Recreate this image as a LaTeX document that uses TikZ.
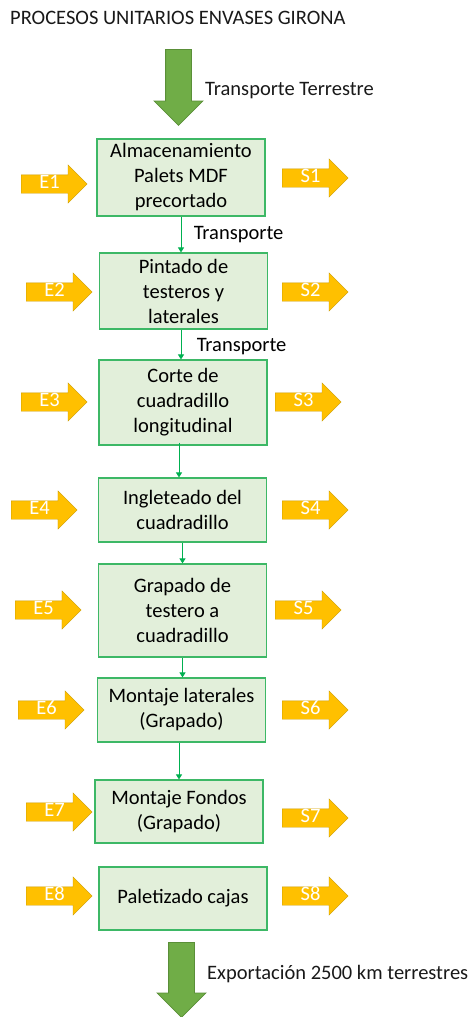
\documentclass[tikz,border=0pt]{standalone}
\usepackage{fontspec}
\setmainfont{Carlito}
\usetikzlibrary{positioning, shapes.arrows, arrows.meta}
\definecolor{boxfill}{HTML}{E2EFDA}
\definecolor{boxline}{HTML}{3DB866}
\definecolor{flowline}{HTML}{00B050}
\definecolor{iofill}{HTML}{FFC000}
\definecolor{ioline}{HTML}{C99A00}
\definecolor{bigfill}{HTML}{70AD47}
\definecolor{bigline}{HTML}{5A8F38}

\begin{document}
\begin{tikzpicture}[x=1pt, y=-1pt, font=\fontsize{20.5}{25}\selectfont,
    proc/.style={draw=boxline, fill=boxfill, line width=1.1pt, align=center, minimum width=168pt, inner sep=2pt},
    io/.style={single arrow, draw=ioline, fill=iofill, text=white, anchor=tail, minimum height=66pt,
        single arrow head extend=10pt, inner xsep=0pt, inner ysep=1.5pt, text height=12pt, text depth=3pt},
    bigarrow/.style={single arrow, draw=bigline, fill=bigfill, line width=0.8pt, rotate=-90, anchor=tail,
        inner xsep=0pt, inner ysep=12.5pt, single arrow head extend=11.5pt},
    flow/.style={draw=flowline, line width=0.9pt, -{Triangle[width=6pt,length=5pt]}},
    lbl/.style={anchor=west, inner sep=0pt, text=black!90}]
    \useasboundingbox (0,0) rectangle (467,1017);

    \node[lbl] (title) at (10,18) {PROCESOS UNITARIOS ENVASES GIRONA};
    \node[bigarrow, minimum height=76pt] (entrada) at (178.5,49) {};
    \node[lbl] (terr) at (205,91) {Transporte Terrestre};

    \node[proc, minimum height=77pt] (alm) at (181,177.5) {Almacenamiento\\Palets MDF\\precortado};
    \node[proc, minimum height=76pt] (pint) at (183.5,291) {Pintado de\\testeros y\\laterales};
    \node[proc, minimum height=85pt] (corte) at (183,402.5) {Corte de\\cuadradillo\\longitudinal};
    \node[proc, minimum height=64pt] (ingl) at (182.5,510) {Ingleteado del\\cuadradillo};
    \node[proc, minimum height=93pt] (grap) at (182.5,610.5) {Grapado de\\testero a\\cuadradillo};
    \node[proc, minimum height=64pt] (mlat) at (181.5,710) {Montaje laterales\\(Grapado)};
    \node[proc, minimum height=63pt] (mfon) at (179,811.5) {Montaje Fondos\\(Grapado)};
    \node[proc, minimum height=63pt] (palet) at (183,898.5) {Paletizado cajas};

    % entradas y salidas
    \node[io] (e1) at (21,184) {E1};
    \node[io] (s1) at (282,178) {S1};
    \node[io] (e2) at (26,292) {E2};
    \node[io] (s2) at (282,292) {S2};
    \node[io] (e3) at (21,402) {E3};
    \node[io] (s3) at (275,402) {S3};
    \node[io] (e4) at (11,510) {E4};
    \node[io] (s4) at (282,510) {S4};
    \node[io] (e5) at (15,610) {E5};
    \node[io] (s5) at (275,610) {S5};
    \node[io] (e6) at (18,710) {E6};
    \node[io] (s6) at (282,710) {S6};
    \node[io] (e7) at (26,812) {E7};
    \node[io] (s7) at (282,818) {S7};
    \node[io] (e8) at (26,896) {E8};
    \node[io] (s8) at (282,896) {S8};

    \draw[flow] (alm.south) -- (alm.south |- pint.north)
        node[midway, anchor=west, xshift=9pt] {Transporte};
    \draw[flow] (pint.south -| alm.south) -- (alm.south |- corte.north)
        node[midway, anchor=west, xshift=12pt, yshift=-2pt] {Transporte};
    \draw[flow] ([yshift=3pt]corte.south -| mfon.south) -- (mfon.south |- ingl.north);
    \draw[flow] (ingl.south) -- (ingl.south |- grap.north);
    \draw[flow] (grap.south) -- (grap.south |- mlat.north);
    \draw[flow] (mlat.south -| mfon.south) -- (mfon.north);

    \node[bigarrow, minimum height=75pt] (salida) at (181.5,942) {};
    \node[lbl] (export) at (207,974) {Exportación 2500 km terrestres};
\end{tikzpicture}
\end{document}
